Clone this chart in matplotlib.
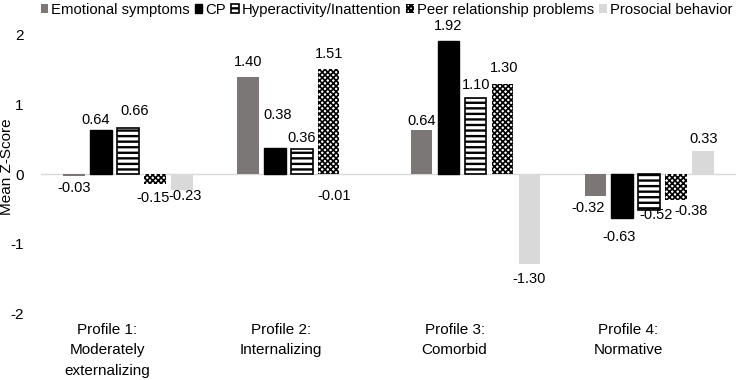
import matplotlib
matplotlib.use("Agg")
import matplotlib.pyplot as plt
import numpy as np
from matplotlib.patches import Patch

plt.rcParams['font.family'] = ['Liberation Sans', 'DejaVu Sans']
plt.rcParams['font.size'] = 11

profiles = ["Profile 1:\nModerately\nexternalizing", "Profile 2:\nInternalizing",
            "Profile 3:\nComorbid", "Profile 4:\nNormative"]
series_names = ["Emotional symptoms", "CP", "Hyperactivity/Inattention",
                "Peer relationship problems", "Prosocial behavior"]
emotional = [-0.03, 1.40, 0.64, -0.32]
cp = [0.64, 0.38, 1.92, -0.63]
hyper = [0.66, 0.36, 1.10, -0.52]
peer = [-0.15, 1.51, 1.30, -0.38]
prosocial = [-0.23, -0.01, -1.30, 0.33]
yticks = [-2, -1, 0, 1, 2]

series = [emotional, cp, hyper, peer, prosocial]
styles = [
    dict(facecolor="#7a7776", edgecolor="none", hatch=None, linewidth=0),
    dict(facecolor="black", edgecolor="black", hatch=None, linewidth=1),
    dict(facecolor="white", edgecolor="black", hatch="---", linewidth=1.2),
    dict(facecolor="white", edgecolor="black", hatch="xxxxxx", linewidth=0),
    dict(facecolor="#d9d9d9", edgecolor="none", hatch=None, linewidth=0),
]
# label nudges in pixels (dx, extra distance from bar end) matching manual placement
nudges = {
    (0, 1): (-6, -2), (0, 2): (7, 5), (0, 3): (-2, 2), (0, 4): (3, -6),
    (1, 0): (0, 3), (1, 1): (3, 21), (1, 2): (0, -1), (1, 3): (0, 3), (1, 4): (-21, 9),
    (2, 0): (0, -3), (2, 1): (0, 3), (2, 2): (1, 1), (2, 3): (2, 4), (2, 4): (0, 3),
    (3, 0): (-7, 0), (3, 1): (-3, 7), (3, 2): (7, -7), (3, 3): (15, -1), (3, 4): (1, 0),
}
PX = 0.72  # points per pixel at 100 dpi
BASE = 12  # px from bar end to label centre

plt.rcParams['hatch.linewidth'] = 1.7

fig = plt.figure(figsize=(7.36, 3.8), dpi=100)
ax = fig.add_axes([0.056, 0.176, 0.944, 0.732])


def hatch_width(artist, lw):
    try:
        artist.set_hatch_linewidth(lw)
    except AttributeError:
        pass


x = np.arange(len(profiles))
pitch = 0.155
width = 0.124
for si, (vals, st) in enumerate(zip(series, styles)):
    pos = x + (si - 2) * pitch
    bars = ax.bar(pos, vals, width, facecolor=st["facecolor"], edgecolor=st["edgecolor"],
                  hatch=st["hatch"], linewidth=st["linewidth"], zorder=2,
                  label=series_names[si])
    if si == 3:
        for b in bars:
            hatch_width(b, 1.2)
    for gi, (p, v) in enumerate(zip(pos, vals)):
        dx, dd = nudges.get((gi, si), (0, 0))
        dist = (BASE + dd) * PX
        sign = 1 if v >= 0 else -1
        ax.annotate(f"{v:.2f}", (p, v), xytext=(dx * PX, sign * dist),
                    textcoords="offset points", ha="center", va="center", fontsize=10.5)

ax.axhline(0, color="#d9d9d9", linewidth=1, zorder=1)
ax.set_xlim(-0.5, 3.5)
ax.set_ylim(-2, 2)
ax.set_yticks(yticks)
ax.set_yticklabels([str(t) for t in yticks])
ax.set_xticks(x - 0.12)
ax.set_xticklabels(profiles, linespacing=1.6, fontsize=11.3)
ax.tick_params(axis="both", length=0, labelsize=11)
ax.tick_params(axis="y", pad=12.5)
ax.tick_params(axis="x", pad=7)
for s in ax.spines.values():
    s.set_visible(False)
ax.set_ylabel("Mean Z-Score", fontsize=11)
ax.yaxis.set_label_coords(-0.039, 0.525)

handles = [Patch(facecolor=st["facecolor"], edgecolor=st["edgecolor"],
                 hatch=st["hatch"], linewidth=st["linewidth"]) for st in styles]
hatch_width(handles[3], 1.2)
fig.legend(handles, series_names, loc="upper center", bbox_to_anchor=(0.525, 1.0), ncol=5,
           frameon=False, handlelength=0.5, handleheight=0.55, handletextpad=0.2,
           columnspacing=0.35, fontsize=10.7, borderaxespad=0, borderpad=0.2)

fig.savefig("out.png", dpi=100)
